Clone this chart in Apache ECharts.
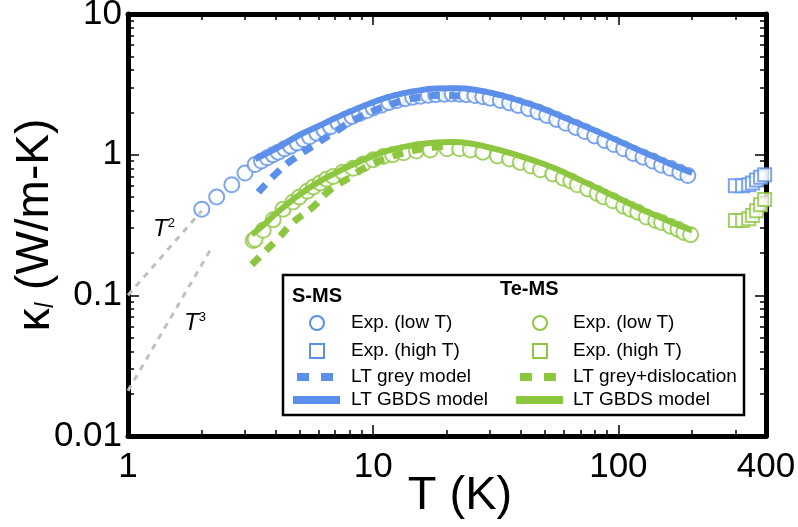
<!DOCTYPE html>
<html>
<head>
<meta charset="utf-8">
<script src="https://cdn.jsdelivr.net/npm/echarts@6/dist/echarts.min.js"></script>
<style>
  html, body { margin: 0; padding: 0; background: #fff; }
  #main { width: 798px; height: 527px; }
</style>
</head>
<body>
<div id="main"></div>
<script>
// S-MS, low T measurement: [T (K), kappa_l (W/m-K)]
var sLowT = [
    [2.0, 0.41], [2.3, 0.50], [2.65, 0.61], [3.0, 0.74], [3.3, 0.85], [3.5, 0.90], [3.7, 0.95],
    [3.9, 1.00], [4.1, 1.04], [4.35, 1.10], [4.6, 1.15], [4.9, 1.21], [5.2, 1.28], [5.5, 1.34],
    [5.9, 1.42], [6.3, 1.50], [6.7, 1.58], [7.2, 1.68], [7.7, 1.78], [8.2, 1.87], [8.8, 1.96],
    [9.4, 2.05], [10, 2.15], [10.8, 2.25], [11.6, 2.35], [12.5, 2.43], [13.5, 2.50], [14.5, 2.56],
    [15.6, 2.60], [16.8, 2.64], [18, 2.67], [19.5, 2.69], [21, 2.70], [22.5, 2.69], [24, 2.67],
    [26, 2.63], [28, 2.58], [30, 2.52], [33, 2.43], [36, 2.33], [39, 2.24], [43, 2.12], [47, 2.01],
    [51, 1.90], [56, 1.78], [61, 1.67], [67, 1.56], [73, 1.46], [80, 1.36], [88, 1.26], [96, 1.18],
    [105, 1.10], [115, 1.02], [126, 0.96], [138, 0.90], [150, 0.84], [163, 0.80], [178, 0.75], [192, 0.71]
];
// S-MS, high T measurement
var sHighT = [[300, 0.60], [321, 0.60], [340, 0.61], [352, 0.63], [366, 0.66], [380, 0.69], [395, 0.72]];
// S-MS, LT grey model
var sGrey = [
    [3.4, 0.54], [4.1, 0.76], [4.8, 0.95], [5.8, 1.18], [7, 1.46], [8.4, 1.77], [10.4, 2.10],
    [13, 2.40], [16, 2.58], [19, 2.64], [23, 2.62]
];
// S-MS, LT GBDS model
var sGBDS = [
    [3.3, 0.93], [4, 1.10], [5, 1.38], [6, 1.60], [7, 1.82], [8, 2.02], [10, 2.36], [12, 2.62],
    [15, 2.84], [18, 2.95], [22, 2.97], [27, 2.86], [33, 2.65], [40, 2.40], [50, 2.10], [60, 1.84],
    [75, 1.56], [90, 1.36], [110, 1.16], [130, 1.02], [160, 0.87], [200, 0.74]
];

// Te-MS, low T measurement
var teLowT = [
    [3.24, 0.245], [3.3, 0.25], [3.56, 0.29], [3.91, 0.345], [4.29, 0.41], [4.71, 0.46], [5.0, 0.50],
    [5.38, 0.55], [5.7, 0.59], [6.08, 0.63], [6.45, 0.67], [6.87, 0.70], [7.5, 0.75], [8.28, 0.80],
    [9.1, 0.86], [10, 0.92], [11, 0.97], [12, 1.00], [13.3, 1.03], [15, 1.06], [17.1, 1.08], [20, 1.10],
    [22.5, 1.10], [24.9, 1.08], [28, 1.04], [32.1, 0.98], [36, 0.93], [39.8, 0.88], [44, 0.83],
    [48.1, 0.78], [54, 0.73], [59.6, 0.68], [64, 0.65], [68, 0.61], [75, 0.57], [82, 0.53], [87, 0.50],
    [95, 0.47], [105, 0.43], [112, 0.41], [120, 0.39], [130, 0.36], [142, 0.34], [150, 0.33],
    [163, 0.31], [175, 0.295], [185, 0.28], [197, 0.27]
];
// Te-MS, high T measurement
var teHighT = [[300, 0.34], [321, 0.34], [340, 0.35], [352, 0.37], [366, 0.40], [380, 0.44], [395, 0.48]];
// Te-MS, LT grey+dislocation model
var teGrey = [
    [3.2, 0.165], [3.46, 0.19], [4.06, 0.25], [4.71, 0.33], [5.64, 0.42], [6.7, 0.565], [8.05, 0.69],
    [9.5, 0.83], [11.5, 0.95], [14, 1.05], [17, 1.12], [20, 1.15]
];
// Te-MS, LT GBDS model
var teGBDS = [
    [3.2, 0.27], [3.6, 0.32], [4, 0.38], [4.5, 0.45], [5, 0.52], [6, 0.64], [7, 0.74], [8, 0.83],
    [10, 0.98], [12, 1.09], [15, 1.18], [18, 1.22], [21, 1.23], [25, 1.20], [30, 1.12], [36, 1.03],
    [45, 0.91], [55, 0.80], [65, 0.70], [80, 0.59], [100, 0.49], [120, 0.42], [150, 0.355],
    [180, 0.31], [200, 0.29]
];

// power-law guides
var guideT2 = [[1, 0.1], [2, 0.4]];
var guideT3 = [[1, 0.021], [2.2, 0.22]];

// ticks
var xMajor = [1, 10, 100];
var xMinor = [2, 3, 4, 5, 6, 7, 8, 9, 20, 30, 40, 50, 60, 70, 80, 90, 200, 300];
var xLabels = [1, 10, 100, 400];
var yMajor = [0.01, 0.1, 1, 10];
var yMinor = [0.02, 0.03, 0.04, 0.05, 0.06, 0.07, 0.08, 0.09, 0.2, 0.3, 0.4, 0.5, 0.6, 0.7, 0.8, 0.9,
    2, 3, 4, 5, 6, 7, 8, 9];

var BLUE = '#5b8fea';
var GREEN = '#8dc63f';
var FONT = '"Liberation Sans", Arial, sans-serif';

var myChart = echarts.init(document.getElementById('main'));

function xAx(pos, major) {
    return {
        type: 'log', logBase: 10, min: 1, max: 400, position: pos,
        axisLine: { show: major, lineStyle: { color: '#000', width: 5 } },
        axisTick: {
            show: true, inside: true, length: major ? 11 : 6,
            lineStyle: { color: '#000', width: 1.5 },
            customValues: major ? xMajor : xMinor
        },
        axisLabel: {
            show: major && pos === 'bottom', customValues: xLabels,
            fontSize: 35, color: '#000', fontFamily: FONT, margin: 14
        },
        splitLine: { show: false },
        name: major && pos === 'bottom' ? 'T (K)' : '',
        nameLocation: 'middle', nameGap: 37, nameMoveOverlap: false,
        nameTextStyle: { fontSize: 47, color: '#000', fontFamily: FONT, padding: [0, 0, 0, 26] }
    };
}
function yAx(pos, major) {
    return {
        type: 'log', logBase: 10, min: 0.01, max: 10, position: pos,
        axisLine: { show: major, lineStyle: { color: '#000', width: 5 } },
        axisTick: {
            show: true, inside: true, length: major ? 11 : 6,
            lineStyle: { color: '#000', width: 1.5 },
            customValues: major ? yMajor : yMinor
        },
        axisLabel: {
            show: major && pos === 'left', customValues: yMajor,
            fontSize: 35, color: '#000', fontFamily: FONT, margin: 6
        },
        splitLine: { show: false },
        name: major && pos === 'left' ? '{k|κ}{s|l} (W/m-K)' : '',
        nameLocation: 'middle', nameGap: 69, nameMoveOverlap: false,
        nameTextStyle: {
            fontSize: 46, color: '#000', fontFamily: FONT,
            rich: {
                k: { fontSize: 46, fontFamily: FONT, color: '#000', verticalAlign: 'bottom', lineHeight: 48 },
                s: { fontSize: 25, fontFamily: FONT, color: '#000', fontStyle: 'italic', verticalAlign: 'bottom', lineHeight: 30 }
            }
        }
    };
}

function lineSeries(data, color, dashed, width) {
    return {
        type: 'line', data: data, showSymbol: false, smooth: true, silent: true,
        xAxisIndex: 0, yAxisIndex: 0,
        lineStyle: { color: color, width: width, type: dashed ? [11, 9] : 'solid', cap: 'butt' }
    };
}
function markSeries(data, color, symbol, size) {
    return {
        type: 'scatter', data: data, symbol: symbol, symbolSize: size, silent: true,
        xAxisIndex: 0, yAxisIndex: 0, clip: true,
        itemStyle: { color: '#fff', borderColor: color, borderWidth: 2 }
    };
}

// legend drawn as graphic
var L = 283, T = 275;
var legendItems = [
    { type: 'rect', shape: { x: L, y: T, width: 461, height: 140 }, style: { fill: '#fff', stroke: '#000', lineWidth: 2.5 } },
    { type: 'text', x: 292, y: 296, style: { text: 'S-MS', font: 'bold 20px ' + FONT, fill: '#000', verticalAlign: 'middle' } },
    { type: 'text', x: 500, y: 289, style: { text: 'Te-MS', font: 'bold 20px ' + FONT, fill: '#000', verticalAlign: 'middle' } }
];
function legendColumn(cx, tx, color, labels) {
    var rows = [323, 351, 377, 400];
    legendItems.push({ type: 'circle', shape: { cx: cx, cy: rows[0], r: 7 }, style: { fill: '#fff', stroke: color, lineWidth: 2 } });
    legendItems.push({ type: 'rect', shape: { x: cx - 7, y: rows[1] - 7, width: 14, height: 14 }, style: { fill: '#fff', stroke: color, lineWidth: 2 } });
    legendItems.push({ type: 'rect', shape: { x: cx - 20, y: rows[2] - 4, width: 12, height: 8 }, style: { fill: color } });
    legendItems.push({ type: 'rect', shape: { x: cx + 4, y: rows[2] - 4, width: 12, height: 8 }, style: { fill: color } });
    legendItems.push({ type: 'rect', shape: { x: cx - 24, y: rows[3] - 4, width: 47, height: 8 }, style: { fill: color } });
    for (var i = 0; i < 4; i++) {
        legendItems.push({ type: 'text', x: tx, y: rows[i], style: { text: labels[i], font: '19px ' + FONT, fill: '#000', verticalAlign: 'middle' } });
    }
}
legendColumn(317, 351, BLUE, ['Exp. (low T)', 'Exp. (high T)', 'LT grey model', 'LT GBDS model']);
legendColumn(540, 573, GREEN, ['Exp. (low T)', 'Exp. (high T)', 'LT grey+dislocation', 'LT GBDS model']);

var powRich = {
    t: { font: 'italic 24px ' + FONT, fill: '#000', verticalAlign: 'top', lineHeight: 30 },
    p: { font: '13px ' + FONT, fill: '#000', verticalAlign: 'top', lineHeight: 14 }
};

var option = {
    backgroundColor: '#fff',
    animation: false,
    grid: { left: 128, right: 32, top: 14, bottom: 91, containLabel: false, outerBoundsMode: 'none' },
    xAxis: [xAx('bottom', true), xAx('bottom', false), xAx('top', true), xAx('top', false)],
    yAxis: [yAx('left', true), yAx('left', false), yAx('right', true), yAx('right', false)],
    series: [
        {
            type: 'line', data: guideT2, showSymbol: false, silent: true,
            lineStyle: { color: '#c0c0c0', width: 3, type: [6, 6] }
        },
        {
            type: 'line', data: guideT3, showSymbol: false, silent: true,
            lineStyle: { color: '#c0c0c0', width: 3, type: [6, 6] }
        },
        lineSeries(sGrey, BLUE, true, 7),
        lineSeries(teGrey, GREEN, true, 7),
        lineSeries(sGBDS, BLUE, false, 6),
        lineSeries(teGBDS, GREEN, false, 6),
        markSeries(sLowT, BLUE, 'circle', 15),
        markSeries(teLowT, GREEN, 'circle', 15),
        markSeries(sHighT, BLUE, 'rect', 13),
        markSeries(teHighT, GREEN, 'rect', 13)
    ],
    graphic: [
        { type: 'text', x: 153, y: 217, style: { text: '{t|T}{p|2}', rich: powRich } },
        { type: 'text', x: 184, y: 311, style: { text: '{t|T}{p|3}', rich: powRich } },
        { type: 'group', children: legendItems, z: 100 }
    ]
};
myChart.setOption(option);
window.addEventListener('resize', function () {
    myChart.resize();
});
</script>
</body>
</html>
